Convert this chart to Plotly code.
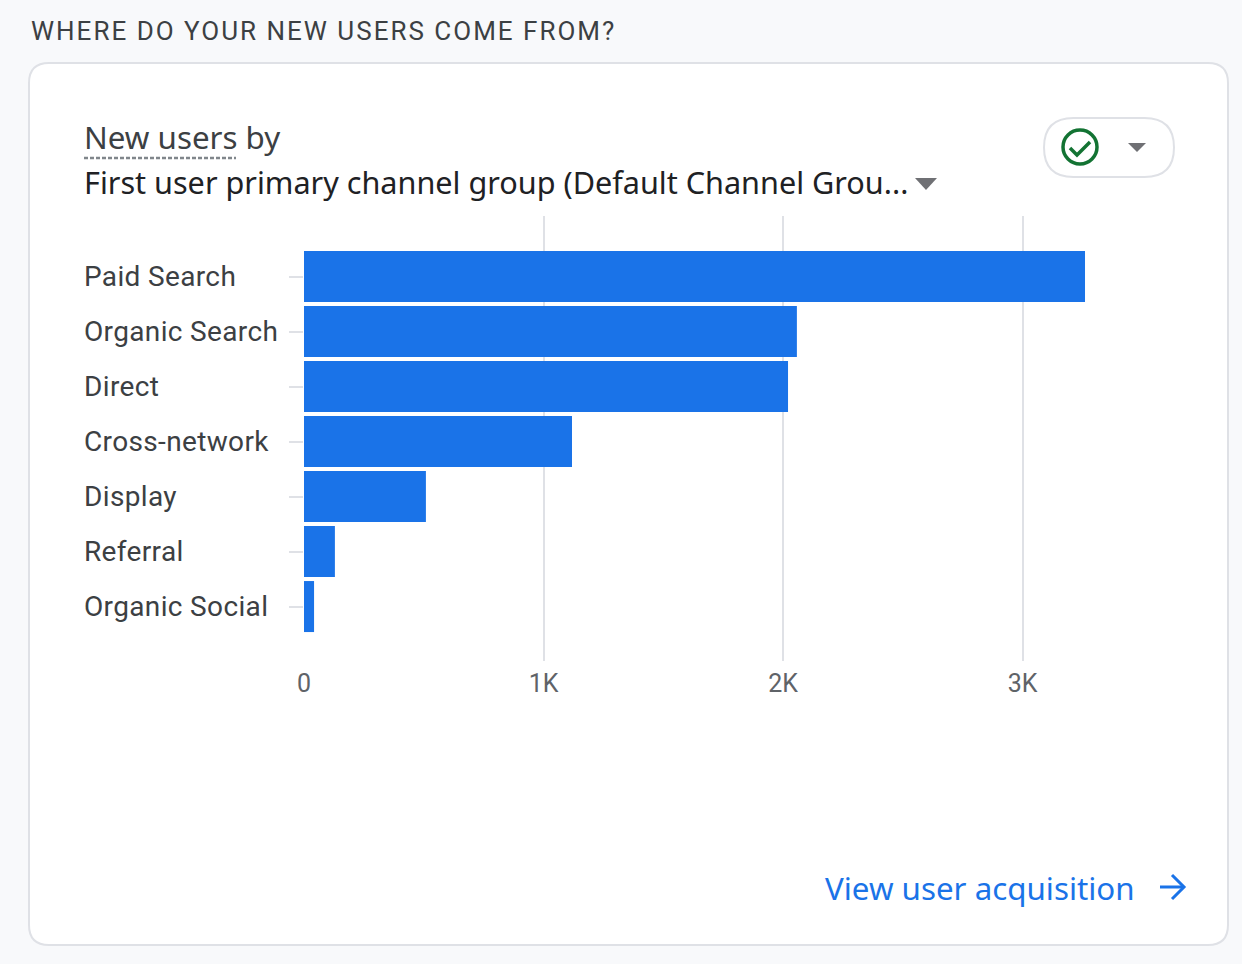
import plotly.graph_objects as go

W = 1242
H = 964

channels = ["Paid Search", "Organic Search", "Direct", "Cross-network", "Display", "Referral", "Organic Social"]
new_users = [3261, 2058, 2021, 1119, 509, 129, 42]
tick_vals = [0, 1000, 2000, 3000]
tick_text = ["0", "1K", "2K", "3K"]

BG = "#f8f9fb"
BORDER = "#dfe1e6"
BLUE = "#1a73e8"
GREEN = "#137333"
DARK = "#3c4043"
GREY = "#5f6368"
ARROW_GREY = "#6f7074"


def fx(x):
    return x / W


def fy(y):
    return 1 - y / H


def path(points, close=False):
    # pixel points -> svg path in paper coords
    d = "M" + " L".join(f"{fx(x):.5f},{fy(y):.5f}" for x, y in points)
    return d + (" Z" if close else "")


def rounded_rect(x0, y0, x1, y1, r):
    return (
        f"M{fx(x0 + r):.5f},{fy(y0):.5f} L{fx(x1 - r):.5f},{fy(y0):.5f} "
        f"Q{fx(x1):.5f},{fy(y0):.5f} {fx(x1):.5f},{fy(y0 + r):.5f} "
        f"L{fx(x1):.5f},{fy(y1 - r):.5f} "
        f"Q{fx(x1):.5f},{fy(y1):.5f} {fx(x1 - r):.5f},{fy(y1):.5f} "
        f"L{fx(x0 + r):.5f},{fy(y1):.5f} "
        f"Q{fx(x0):.5f},{fy(y1):.5f} {fx(x0):.5f},{fy(y1 - r):.5f} "
        f"L{fx(x0):.5f},{fy(y0 + r):.5f} "
        f"Q{fx(x0):.5f},{fy(y0):.5f} {fx(x0 + r):.5f},{fy(y0):.5f} Z"
    )


def add_shape(fig, d, line=None, width=2, fill=None, dash=None, layer="above"):
    fig.add_shape(
        type="path", path=d, xref="paper", yref="paper", layer=layer,
        line=dict(color=line, width=width, dash=dash) if line else dict(width=0),
        fillcolor=fill,
    )


def add_text(fig, text, x, y, size, color, font="Roboto", anchor="left"):
    fig.add_annotation(
        text=text, x=fx(x), y=fy(y), xref="paper", yref="paper",
        xanchor=anchor, yanchor="middle", align=anchor, showarrow=False,
        font=dict(family=font, size=size, color=color),
    )


fig = go.Figure()

fig.add_trace(go.Bar(
    x=new_users,
    y=channels,
    orientation="h",
    marker=dict(color=BLUE, line=dict(width=0)),
    hoverinfo="x+y",
))

fig.update_layout(
    width=W,
    height=H,
    autosize=False,
    margin=dict(l=0, r=0, t=0, b=0, autoexpand=False),
    paper_bgcolor=BG,
    plot_bgcolor="rgba(0,0,0,0)",
    showlegend=False,
    bargap=4 / 55,
    xaxis=dict(
        domain=[fx(304), fx(1100)],
        range=[0, 3323.6],
        tickvals=tick_vals,
        ticktext=tick_text,
        showgrid=True,
        gridcolor=BORDER,
        gridwidth=2,
        zeroline=False,
        showline=False,
        ticks="",
        ticklabelstandoff=5,
        tickfont=dict(family="Roboto", size=25, color=GREY),
    ),
    yaxis=dict(
        domain=[fy(661), fy(216)],
        type="category",
        categoryorder="array",
        categoryarray=channels,
        range=[6.99, -1.1],
        showgrid=False,
        zeroline=False,
        showline=False,
        showticklabels=False,
        ticks="outside",
        ticklen=14,
        tickwidth=2,
        tickcolor=BORDER,
    ),
)

# card behind the chart
add_shape(fig, rounded_rect(29, 63, 1228, 945, 20), line=BORDER, fill="#ffffff", layer="below")

# header text, x is pulled back 2.5px for the annotation padding
add_text(fig, "WHERE DO YOUR NEW USERS COME FROM?", 28.5, 31, 26, DARK)
add_text(fig, "New users by", 81.5, 137.5, 31.3, DARK, font="Noto Sans")
add_text(fig, "First user primary channel group (Default Channel Grou...", 81.5, 182, 30.6, "#202124", font="Noto Sans")
add_shape(fig, path([(84, 158), (236, 158)]), line="#80868b", width=2.5, dash="4px,2px")
add_shape(fig, path([(915, 178), (937, 178), (926, 190)], close=True), fill=ARROW_GREY)

# status chip
add_shape(fig, rounded_rect(1044, 118, 1174, 177, 29.5), line=BORDER, fill="#ffffff")
fig.add_shape(type="circle", xref="paper", yref="paper", x0=fx(1063), x1=fx(1097), y0=fy(164), y1=fy(130),
              line=dict(color=GREEN, width=3.5))
add_shape(fig, path([(1070, 148), (1077, 155), (1090, 142)]), line=GREEN, width=3.5)
add_shape(fig, path([(1128, 143), (1146, 143), (1137, 152)], close=True), fill=ARROW_GREY)

# category labels sit left aligned, so they are annotations tied to the y axis
for name in channels:
    fig.add_annotation(
        text=name, x=fx(81.5), y=name, xref="paper", yref="y",
        xanchor="left", yanchor="middle", align="left", showarrow=False,
        font=dict(family="Roboto", size=28, color=DARK),
    )

# footer link
add_text(fig, "View user acquisition", 823, 888, 31.3, BLUE, font="Noto Sans")
add_shape(fig, path([(1160, 887), (1184, 887)]), line=BLUE, width=3)
add_shape(fig, path([(1172, 875), (1184, 887), (1172, 899)]), line=BLUE, width=3)

fix_page = """
document.body.style.margin = '0';
document.querySelectorAll('.annotation-text').forEach(function (t) {
    if (t.textContent.startsWith('WHERE')) { t.style.letterSpacing = '2px'; }
    if (t.style.fontFamily.indexOf('Roboto') >= 0 && !t.textContent.startsWith('WHERE')) { t.style.letterSpacing = '0.35px'; }
});
"""

fig.write_html("out.html", post_script=fix_page, config={"displayModeBar": False})
